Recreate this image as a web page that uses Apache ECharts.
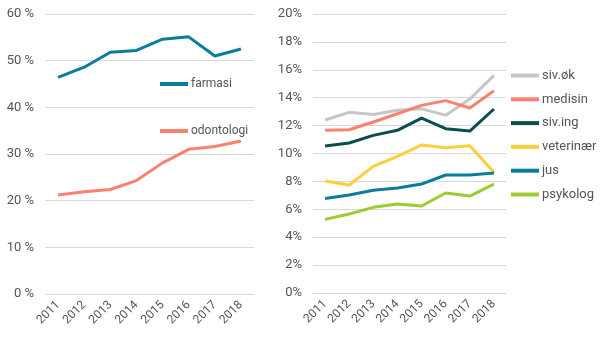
<!DOCTYPE html>
<html>
<head>
<meta charset="utf-8">
<script src="https://cdn.jsdelivr.net/npm/echarts@6/dist/echarts.min.js"></script>
<style>html,body{margin:0;padding:0;background:#fff;}#c{width:606px;height:340px;}</style>
</head>
<body>
<div id="c"></div>
<script>
const years = ['2011','2012','2013','2014','2015','2016','2017','2018'];
const leftTicks = [0, 10, 20, 30, 40, 50, 60];
const rightTicks = [0, 2, 4, 6, 8, 10, 12, 14, 16, 18, 20];
const farmasi = [46.4, 48.6, 51.8, 52.2, 54.6, 55.1, 51.0, 52.5];
const odontologi = [21.2, 21.9, 22.4, 24.3, 28.1, 31.0, 31.6, 32.8];
const sivOk = [12.4, 12.95, 12.8, 13.1, 13.2, 12.75, 13.9, 15.6];
const medisin = [11.66, 11.7, 12.26, 12.85, 13.45, 13.79, 13.26, 14.5];
const sivIng = [10.54, 10.75, 11.3, 11.66, 12.54, 11.78, 11.61, 13.19];
const veterinaer = [8.03, 7.74, 9.08, 9.79, 10.61, 10.42, 10.56, 8.65];
const jus = [6.78, 7.02, 7.36, 7.53, 7.81, 8.46, 8.46, 8.6];
const psykolog = [5.28, 5.66, 6.14, 6.38, 6.24, 7.17, 6.95, 7.81];

const C = {teal:'#0b7d9c', salmon:'#fd8170', grey:'#c6c6c6', dark:'#0b4e4e', yellow:'#fdcf3a', green:'#9ccc31'};
const txt = '#555555';
const grid = '#d9d9d9';
const font = 'Roboto';

function xAxis(idx){
  return {type:'category', gridIndex:idx, data:years, boundaryGap:true,
    axisLine:{show:false}, axisTick:{show:false},
    axisLabel:{rotate:45, color:txt, fontFamily:font, fontSize:12, margin:9, interval:0}};
}
function yAxis(idx, ticks, fmt){
  return {type:'value', gridIndex:idx, min:ticks[0], max:ticks[ticks.length-1], interval:ticks[1]-ticks[0],
    axisLine:{show:false}, axisTick:{show:false},
    splitLine:{lineStyle:{color:grid, width:1}},
    axisLabel:{color:txt, fontFamily:font, fontSize:13, margin:11, formatter:fmt}};
}
function line(name, data, color, idx){
  return {name, type:'line', data, xAxisIndex:idx, yAxisIndex:idx, symbol:'none',
    lineStyle:{color, width:3}, itemStyle:{color}};
}
const chart = echarts.init(document.getElementById('c'), null, {renderer:'canvas'});
chart.setOption({
  animation:false,
  grid:[{left:45, top:14, width:209, height:280},{left:313, top:14, width:193, height:279}],
  xAxis:[xAxis(0), xAxis(1)],
  yAxis:[yAxis(0, leftTicks, '{value} %'), yAxis(1, rightTicks, '{value}%')],
  legend:[
    {data:['farmasi','odontologi'], orient:'vertical', left:160, top:78, padding:0, itemWidth:28, itemHeight:4, itemGap:35, icon:'rect',
     textStyle:{color:txt, fontFamily:font, fontSize:12, padding:[0,0,0,-2]}},
    {data:['siv.øk','medisin','siv.ing','veterinær','jus','psykolog'], orient:'vertical', left:511, top:69, padding:0, itemWidth:28, itemHeight:4, itemGap:10.8, icon:'rect',
     textStyle:{color:txt, fontFamily:font, fontSize:13, padding:[0,0,0,-2]}}
  ],
  series:[
    line('farmasi', farmasi, C.teal, 0),
    line('odontologi', odontologi, C.salmon, 0),
    line('siv.øk', sivOk, C.grey, 1),
    line('medisin', medisin, C.salmon, 1),
    line('siv.ing', sivIng, C.dark, 1),
    line('veterinær', veterinaer, C.yellow, 1),
    line('jus', jus, C.teal, 1),
    line('psykolog', psykolog, C.green, 1)
  ]
});
</script>
</body>
</html>
